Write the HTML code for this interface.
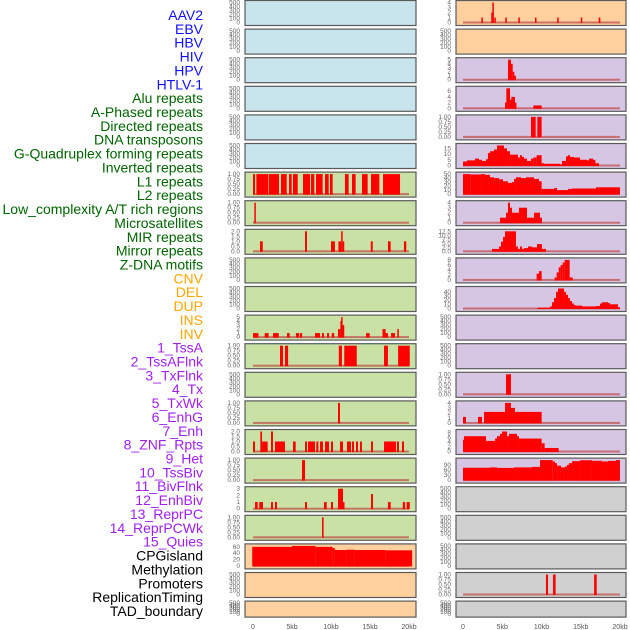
<!DOCTYPE html>
<html><head><meta charset="utf-8">
<style>
html,body{margin:0;padding:0;background:#fff;}
svg{display:block;font-family:"Liberation Sans",sans-serif;}
</style></head>
<body>
<svg id="chart" width="630" height="630" viewBox="0 0 630 630" xmlns="http://www.w3.org/2000/svg">
<g id="labels"></g>
<g id="panels"></g>
</svg>
<script>
const featureLabels = ["AAV2","EBV","HBV","HIV","HPV","HTLV-1","Alu repeats","A-Phased repeats","Directed repeats","DNA transposons","G-Quadruplex forming repeats","Inverted repeats","L1 repeats","L2 repeats","Low_complexity A/T rich regions","Microsatellites","MIR repeats","Mirror repeats","Z-DNA motifs","CNV","DEL","DUP","INS","INV","1_TssA","2_TssAFlnk","3_TxFlnk","4_Tx","5_TxWk","6_EnhG","7_Enh","8_ZNF_Rpts","9_Het","10_TssBiv","11_BivFlnk","12_EnhBiv","13_ReprPC","14_ReprPCWk","15_Quies","CPGisland","Methylation","Promoters","ReplicationTiming","TAD_boundary"];
const labelGroups = [6,13,5,15,5];
const E=[0,100,200,300,400,500], B=[0,0.25,0.5,0.75,1];
const leftTicks = [E,E,E,E,E,E,B,B,[0,0.5,1,1.5,2],E,E,[0,1,2,3,4,5],B,E,B,[0,0.5,1,1.5,2],B,[0,1,2,3],B,[0,20,40,60],E,E];
const rightTicks = [[0,1,2,3,4],E,[0,1,2,3,4,5],[0,2,4,6],B,[0,5,10,15],[0,10,20,30,40,50],[0,1,2,3,4],[0,2.5,5,7.5,10,12.5],[0,2,4,6,8],[0,10,20,30,40],E,E,B,[0,1,2,3,4],[0,2,4,6,8],[0,30,60,90],E,E,E,B,E];
// segments: [startKb, endKb, value]
const leftSegs = [[],[],[],[],[],[],
 [[0,0.26,1],[0.43,1.97,1],[2.05,3.33,1],[3.59,4.32,1],[4.62,4.96,1],[5.13,5.73,1],[6.41,7.31,1],[7.44,7.86,1],[8.08,8.93,1],[9.23,9.7,1],[9.87,10.21,1],[11.79,12.26,1],[12.69,13.16,1],[13.97,14.7,1],[15.13,16.2,1],[16.67,18.85,1]],
 [[0.17,0.35,1]],
 [[0.9,1.25,1],[6.67,6.92,2],[10,10.5,1],[10.95,11.3,1],[11.3,11.5,2],[11.5,11.7,1],[15.1,15.35,1],[17.3,17.65,1],[19.35,19.65,1]],
 [],[],
 [[0,0.7,1],[1.5,2.0,1],[2.56,3.3,1],[4.36,4.7,1],[5.5,5.9,1],[6.0,6.3,1],[7.95,8.6,1],[8.85,9.1,1],[9.5,9.75,1],[10.1,10.4,1],[10.9,11.2,2],[11.2,11.3,4],[11.3,11.45,5],[11.45,11.7,3],[14.5,14.96,1],[16.6,17.0,2],[17.0,17.3,1],[17.7,18.2,1],[18.5,18.7,2]],
 [[3.46,3.85,1],[4.1,4.5,1],[11.0,11.4,1],[11.7,13.3,1],[16.8,17.3,1],[18.6,20.1,1]],
 [],
 [[10.9,11.15,1]],
 [[0,0.26,1],[0.94,1.16,2],[1.16,1.88,1],[2.31,2.56,2],[2.82,4.1,1],[5.13,5.47,1],[6.67,6.92,1],[7.05,7.95,1],[8.12,8.38,1],[8.59,8.97,1],[9.23,9.74,1],[10.0,10.26,1],[11.15,11.54,1],[12.05,12.56,1],[12.69,12.95,1],[13.2,13.46,1],[13.72,13.97,1],[15.13,15.38,1],[16.8,18.33,1],[18.46,18.72,1],[19.1,19.36,1]],
 [[6.28,6.67,1]],
 [[0.26,0.6,1],[0.8,1.28,1],[2.31,2.56,1],[2.82,3.08,1],[6.67,6.92,1],[9.1,9.45,1],[10,10.26,1],[10.9,11.54,3],[11.54,11.67,1],[15.13,15.38,2.2],[17.3,17.65,1],[19.2,19.5,1],[19.7,20.1,1]],
 [[8.85,9.05,1]],
 [[-0.1,5,60],[5,8,63],[8,10.2,60],[10.2,10.5,56],[10.5,12,50],[12,13,51],[13,17,50],[17,20.4,49]],
 [],[]];
const rightSegs = [
 [[2.34,2.5,1],[3.6,3.78,2],[3.74,3.9,4],[3.99,4.16,1],[5.39,5.56,1],[7.05,7.22,1],[9.17,9.34,1],[12.0,12.19,1],[15.0,15.2,1],[17.28,17.5,1]],
 [],
 [[5.73,6.11,5],[6.11,6.33,4],[6.33,6.54,2],[6.54,6.75,1]],
 [[5.35,5.52,2],[5.52,5.99,7],[5.99,6.16,3],[6.16,6.62,4],[6.62,6.75,2],[8.96,10.02,1]],
 [[8.66,9.26,1],[9.47,10.02,1]],
 [[0,0.51,3.5],[0.51,1.53,4.5],[1.53,2.04,6],[2.04,2.42,5],[2.42,2.93,4],[2.93,3.18,5.5],[3.18,3.44,11],[3.44,3.95,12.5],[3.95,4.33,14],[4.33,5.22,17.5],[5.22,5.61,15],[5.61,5.99,12.5],[5.99,7.0,9.5],[7.0,7.26,7],[7.26,7.52,9],[7.52,7.77,7.5],[7.77,8.15,6],[8.15,8.66,4],[8.66,8.96,6],[8.96,9.38,7],[9.38,10.02,9],[10.02,10.32,2],[10.32,12.36,1.5],[12.36,12.61,1],[12.61,13.12,4],[13.12,13.38,8],[13.38,13.63,9],[13.63,14.14,7.5],[14.14,14.9,7],[14.9,15.8,5],[15.8,16.05,4.5],[16.05,16.56,6],[16.56,16.86,5],[16.86,17.32,2]],
 [[0,0.93,50],[0.93,2.29,49],[2.29,2.8,50],[2.8,3.44,48],[3.44,3.95,42],[3.95,4.59,40],[4.59,5.1,37],[5.1,5.73,32],[5.73,6.24,28],[6.24,6.5,30],[6.5,6.75,38],[6.75,7.39,42],[7.39,8.03,40],[8.03,9.04,42],[9.04,9.68,38],[9.68,10.02,32],[10.02,11.6,13],[11.6,11.98,15],[11.98,13.38,10],[13.38,13.89,13],[13.89,16.94,14],[16.94,20.0,17]],
 [[4.71,5.48,1],[5.48,5.73,2],[5.73,5.99,4],[5.99,6.24,3],[6.24,7.13,2],[7.13,8.15,3],[8.15,9.04,1],[9.04,9.81,2],[9.81,10.06,1]],
 [[3.69,4.59,1.5],[4.59,4.84,3],[4.84,5.1,6],[5.1,5.35,9],[5.35,6.75,12.5],[6.75,7.0,3],[7.0,7.26,1.5],[7.26,7.52,3],[7.52,7.77,1.5],[7.77,8.28,2],[8.28,8.79,3],[8.79,9.43,2.5],[9.43,10.06,4.5],[10.06,10.57,1.5]],
 [[9.38,9.68,2.5],[9.68,10.02,3.5],[11.68,11.93,1],[11.93,12.19,3],[12.19,12.44,5],[12.44,12.7,6],[12.7,12.95,7],[12.95,13.59,8],[13.59,13.97,1]],
 [[9.47,11.08,2],[11.08,11.34,5],[11.34,11.59,15],[11.59,11.85,25],[11.85,12.1,40],[12.1,12.87,48],[12.87,13.12,40],[13.12,13.38,33],[13.38,13.63,25],[13.63,13.89,18],[13.89,14.14,12],[14.14,14.39,8],[14.39,15.16,7],[15.16,16.94,5],[16.94,17.45,6],[17.45,17.71,12],[17.71,18.47,15],[18.47,18.73,13],[18.73,19.75,10],[19.75,20.0,3]],
 [],[],
 [[5.48,6.11,1]],
 [[0,0.38,1.2],[1.91,2.42,1.2],[2.68,5.35,2.2],[5.35,6.11,4],[6.11,6.62,3],[6.62,10.02,2.2]],
 [[0,0.13,5],[0.13,2.93,6.5],[2.93,4.08,4.5],[4.08,4.33,5.5],[4.33,4.71,6.5],[4.71,4.97,7.5],[4.97,5.61,8.5],[5.61,5.86,6.5],[5.86,6.88,7.5],[6.88,7.13,6.5],[7.13,10.02,5.5],[10.02,10.4,3.5],[10.4,12.19,1.5]],
 [[0,3.44,73],[3.44,4.33,75],[4.33,6.5,72],[6.5,8.79,75],[8.79,9.81,78],[9.81,11.42,118],[11.42,11.72,110],[11.72,11.98,100],[11.98,12.48,85],[12.48,12.99,75],[12.99,13.25,80],[13.25,13.5,90],[13.5,13.89,100],[13.89,14.9,112],[14.9,16.43,117],[16.43,17.71,114],[17.71,18.47,110],[18.47,19.49,113],[19.49,20.0,118]],
 [],[],[],
 [[10.57,10.83,1],[11.46,11.8,1],[16.7,17.03,1]],
 []];
const xTickKb = [0,5,10,15,20];
const xTickLabels = ["0","5kb","10kb","15kb","20kb"];

const NS="http://www.w3.org/2000/svg";
function mk(tag, attrs, parent){const e=document.createElementNS(NS,tag);for(const k in attrs)e.setAttribute(k,attrs[k]);parent.appendChild(e);return e;}
const svg=document.getElementById('chart');
const labelsG=document.getElementById('labels');
const panelsG=document.getElementById('panels');
const groupColors=["#1010ff","#006400","#ffa500","#a020f0","#000000"];
let gi=0,cnt=0;
featureLabels.forEach((t,i)=>{
  while(cnt>=labelGroups[gi]){gi++;cnt=0;}
  cnt++;
  const el=mk('text',{x:203,y:15+i*13.86+5,'text-anchor':'end','font-size':'14',fill:groupColors[gi]},labelsG);
  
  
  el.textContent=t;
});
const leftBg=i=>i<6?"#c8e4ec":(i<19?"#c9e1a5":"#fdd09e");
const rightBg=i=>i<2?"#fdd09e":(i<17?"#d7c6e3":"#d0d0d0");
function fmt(v,ticks){let d=0;ticks.forEach(t=>{const s=String(t);if(s.includes('.'))d=Math.max(d,s.split('.')[1].length);});return v.toFixed(d);}
function drawCol(segsArr,ticksArr,px0,px1,x0,x20,tickX,bgFn,side){
  const xs=kb=>x0+(kb/20)*(x20-x0);
  for(let i=0;i<22;i++){
    const top=28.6*i, h=(i==21?16:25);
    const g=mk('g',{},panelsG);
    
    
    const bg=mk('rect',{x:px0,y:top+0.5,width:px1-px0,height:h,fill:bgFn(i),stroke:"#5a5a5a","stroke-width":1.2},g);
    
    
    const segs=segsArr[i], ticks=ticksArr[i];
    let dmax=ticks[ticks.length-1];
    segs.forEach(s=>{if(s[2]>dmax)dmax=s[2];});
    const zeroY=top+h-2.5, maxY=top+2.5;
    const ys=v=>zeroY-(v/dmax)*(zeroY-maxY);
    ticks.forEach(t=>{
      const tl=mk('text',{x:tickX,y:ys(t)+2,'text-anchor':'end','font-size':'6.5',fill:"#666"},g);
      
      
      tl.textContent=fmt(t,ticks);
    });
    if(segs.length){
      const bl=mk('rect',{x:xs(0),y:zeroY-1,width:xs(20)-xs(0),height:2,fill:"#c0504d",opacity:0.75},g);
      
      
    }
    segs.forEach(s=>{
      const a=xs(Math.max(s[0],-0.2)), b=xs(s[1]);
      const r=mk('rect',{x:a,y:ys(s[2]),width:Math.max(b-a,1.5),height:zeroY-ys(s[2])+0.5,fill:"#ff0000"},g);
      
      
    });
  }
  xTickKb.forEach((k,j)=>{
    const t=mk('text',{x:xs(k),y:629,'text-anchor':'middle','font-size':'7',fill:"#555"},panelsG);
    
    
    t.textContent=xTickLabels[j];
  });
}
drawCol(leftSegs,leftTicks,245,416,253,409,240,leftBg,'left');
drawCol(rightSegs,rightTicks,456,626,463,620,451,rightBg,'right');
</script>
</body></html>
